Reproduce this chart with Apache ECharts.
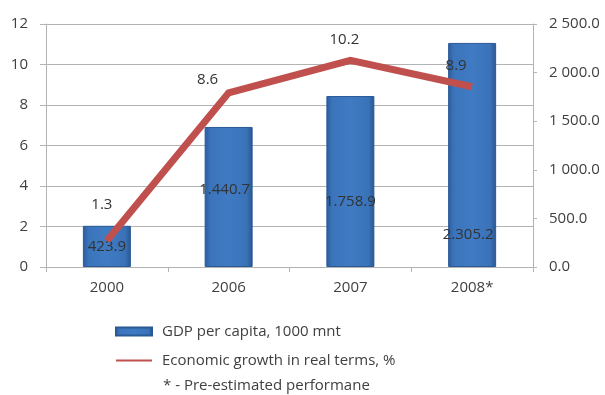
<!DOCTYPE html>
<html>
<head>
<meta charset="utf-8">
<script src="https://cdn.jsdelivr.net/npm/echarts@6/dist/echarts.min.js"></script>
<style>
  html, body { margin: 0; padding: 0; background: #fff; }
  #chart { width: 605px; height: 395px; }
</style>
</head>
<body>
<div id="chart"></div>
<script>
// Years on the category axis
const years = ['2000', '2006', '2007', '2008*'];
// GDP per capita, thousand MNT (right axis)
const gdpPerCapita = [423.9, 1440.7, 1758.9, 2305.2];
// Real economic growth, % (left axis)
const realGrowth = [1.3, 8.6, 10.2, 8.9];

// Label nudges [dx, dy] so values sit clear of the line
const barLabelShift = [[0, 0], [-4, -7], [0, 20], [-4, 80]];
const lineLabelShift = [[-5, -36], [-21, -13], [-6, -21], [-16, -21]];

const FONT = '"Open Sans", "Noto Sans", sans-serif';
const TEXT = '#404040';
const GRID_GRAY = '#b3b3b3';

function dotThousands(v) {
  const parts = v.toFixed(1).split('.');
  return parts[0].replace(/\B(?=(\d{3})+(?!\d))/g, '.') + '.' + parts[1];
}
function spaceThousands(v) {
  const parts = v.toFixed(1).split('.');
  return parts[0].replace(/\B(?=(\d{3})+(?!\d))/g, ' ') + '.' + parts[1];
}

const barFill = new echarts.graphic.LinearGradient(0, 0, 1, 0, [
  { offset: 0, color: '#2b5c9c' },
  { offset: 0.12, color: '#3b74bb' },
  { offset: 0.5, color: '#3f7bc3' },
  { offset: 0.88, color: '#3a72b8' },
  { offset: 1, color: '#28568f' }
]);

const chart = echarts.init(document.getElementById('chart'), null, { renderer: 'canvas' });

chart.setOption({
  animation: false,
  textStyle: { fontFamily: FONT },
  grid: { left: 46, right: 72, top: 24, bottom: 128, containLabel: false },
  legend: {
    orient: 'vertical',
    left: 115,
    top: 324,
    padding: 0,
    itemWidth: 36,
    itemHeight: 8,
    itemGap: 14,
    textStyle: { fontFamily: FONT, fontSize: 15, color: TEXT, lineHeight: 15, padding: [0, 0, 0, 5] },
    data: [
      { name: 'GDP per capita, 1000 mnt', icon: 'rect' },
      { name: 'Economic growth in real terms, %', itemStyle: { opacity: 0 } }
    ]
  },
  graphic: [{
    type: 'text',
    left: 163,
    top: 378,
    style: { text: '* - Pre-estimated performane', font: '15px ' + FONT, fill: TEXT }
  }],
  xAxis: {
    type: 'category',
    data: years,
    axisLine: { lineStyle: { color: GRID_GRAY, width: 1 } },
    axisTick: { show: true, length: 5, lineStyle: { color: GRID_GRAY } },
    axisLabel: { color: TEXT, fontSize: 15, fontFamily: FONT, margin: 13 }
  },
  yAxis: [
    {
      type: 'value',
      min: 0, max: 12, interval: 2,
      position: 'left',
      axisLine: { show: true, lineStyle: { color: GRID_GRAY } },
      axisTick: { show: true, inside: false, length: 6, lineStyle: { color: GRID_GRAY } },
      splitLine: { show: true, lineStyle: { color: GRID_GRAY, width: 1 } },
      axisLabel: { color: TEXT, fontSize: 15, fontFamily: FONT, margin: 18 }
    },
    {
      type: 'value',
      min: 0, max: 2500, interval: 500,
      position: 'right',
      axisLine: { show: true, lineStyle: { color: GRID_GRAY } },
      axisTick: { show: true, length: 4, lineStyle: { color: GRID_GRAY } },
      splitLine: { show: false },
      axisLabel: {
        color: TEXT, fontSize: 15, fontFamily: FONT, margin: 16,
        formatter: v => spaceThousands(v)
      }
    }
  ],
  series: [
    {
      name: 'GDP per capita, 1000 mnt',
      type: 'bar',
      yAxisIndex: 1,
      barWidth: 48,
      itemStyle: { color: barFill, borderColor: '#2a5a96', borderWidth: 1 },
      data: gdpPerCapita.map((v, i) => ({
        value: v,
        label: {
          show: true,
          position: 'inside',
          offset: barLabelShift[i],
          formatter: p => dotThousands(p.value),
          color: '#333',
          fontSize: 15,
          fontFamily: FONT
        }
      })),
      z: 2
    },
    {
      name: 'Economic growth in real terms, %',
      type: 'line',
      yAxisIndex: 0,
      symbol: 'circle',
      symbolSize: 0,
      showSymbol: true,
      lineStyle: { color: '#c0504d', width: 7, join: 'miter' },
      itemStyle: { color: '#c0504d' },
      data: realGrowth.map((v, i) => ({
        value: v,
        label: {
          show: true,
          position: 'inside',
          offset: lineLabelShift[i],
          color: '#333',
          fontSize: 15,
          fontFamily: FONT
        }
      })),
      z: 3
    }
  ]
});
</script>
</body>
</html>
